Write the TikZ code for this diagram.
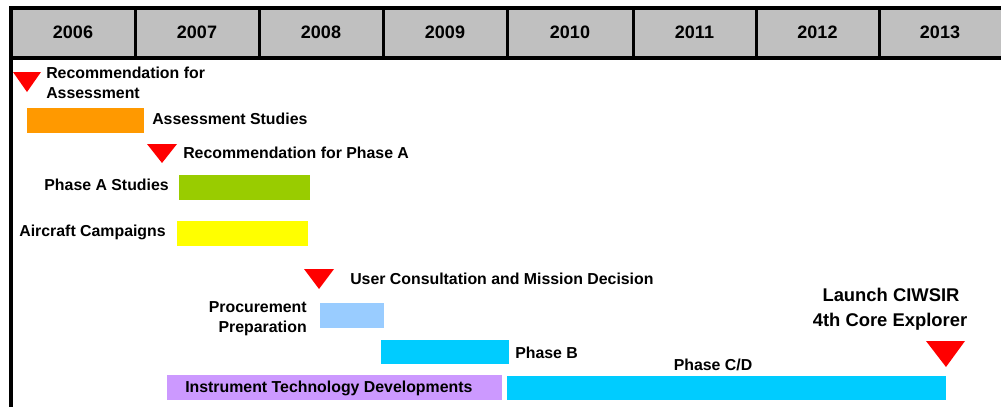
\documentclass[tikz,border=0pt]{standalone}
\usepackage{fontspec}
\setmainfont{Liberation Sans}
\begin{document}
\begin{tikzpicture}[x=0.75pt,y=-0.75pt,
  lbl/.style={font=\fontsize{11.9}{14}\selectfont\bfseries, inner sep=0pt},
  yr/.style={font=\fontsize{13.5}{16}\selectfont\bfseries, inner sep=0pt, anchor=base},
  big/.style={font=\fontsize{13.8}{17}\selectfont\bfseries, inner sep=0pt, anchor=base},
  milestone/.style={fill=msred},
  frame/.style={line width=3pt, line join=miter},
  divider/.style={line width=2.25pt}]
\definecolor{hdrgray}{HTML}{C0C0C0}
\definecolor{msred}{HTML}{FF0000}
\definecolor{barorange}{HTML}{FF9900}
\definecolor{bargreen}{HTML}{99CC00}
\definecolor{baryellow}{HTML}{FFFF00}
\definecolor{barsky}{HTML}{99CCFF}
\definecolor{barcyan}{HTML}{00CCFF}
\definecolor{barlilac}{HTML}{CC99FF}

\useasboundingbox (0,0) rectangle (1001,407);
\clip (0,0) rectangle (1001,407);

% year header
\fill[hdrgray] (11,8) rectangle (1003,57.5);
\foreach \x in {135,259,383,507,633,756,879}
  \draw[divider] (\x,8) -- (\x,57.5);
\draw[frame] (1003,8) -- (11,8) -- (11,410);
\draw[frame] (11,57.5) -- (1003,57.5);
\draw[frame] (1003,8) -- (1003,57.5);
\node[yr] (y2006) at (73,38) {2006};
\node[yr] (y2007) at (197,38) {2007};
\node[yr] (y2008) at (321,38) {2008};
\node[yr] (y2009) at (445,38) {2009};
\node[yr] (y2010) at (570,38) {2010};
\node[yr] (y2011) at (694.5,38) {2011};
\node[yr] (y2012) at (817.5,38) {2012};
\node[yr] (y2013) at (940,38) {2013};

% milestones
\fill[milestone] (13,72) -- (41,72) -- (27,92) -- cycle;
\fill[milestone] (147,144) -- (177,144) -- (162,163) -- cycle;
\fill[milestone] (304,269) -- (334,269) -- (319,289) -- cycle;
\fill[milestone] (926,341) -- (965,341) -- (946,367) -- cycle;

% activity bars
\fill[barorange] (27,108) rectangle (144,133);
\fill[bargreen] (179,175) rectangle (310,200);
\fill[baryellow] (177,221) rectangle (308,246);
\fill[barsky] (320,303) rectangle (384,328);
\fill[barcyan] (381,340) rectangle (509,364);
\fill[barlilac] (167,375) rectangle (502,400);
\fill[barcyan] (507,376) rectangle (946,400);

% labels
\node[lbl, anchor=base west] (ra1) at (46,78) {Recommendation for};
\node[lbl, anchor=base west] (ra2) at (46,98) {Assessment};
\node[lbl, anchor=base west] (as) at (152,124) {Assessment Studies};
\node[lbl, anchor=base west] (rpa) at (183,158) {Recommendation for Phase A};
\node[lbl, anchor=base east] (pas) at (169,190) {Phase A Studies};
\node[lbl, anchor=base east] (ac) at (166,236) {Aircraft Campaigns};
\node[lbl, anchor=base west] (uc) at (350,284) {User Consultation and Mission Decision};
\node[lbl, anchor=base east] (pp1) at (307,312.7) {Procurement};
\node[lbl, anchor=base east] (pp2) at (307,332) {Preparation};
\node[lbl, anchor=base west] (pb) at (515,358) {Phase B};
\node[lbl, anchor=base west] (itd) at (185,392.7) {Instrument Technology Developments};
\node[lbl, anchor=base] (pcd) at (713,370) {Phase C/D};
\node[big] (l1) at (891,301.7) {Launch CIWSIR};
\node[big] (l2) at (890,326) {4th Core Explorer};
\end{tikzpicture}
\end{document}
